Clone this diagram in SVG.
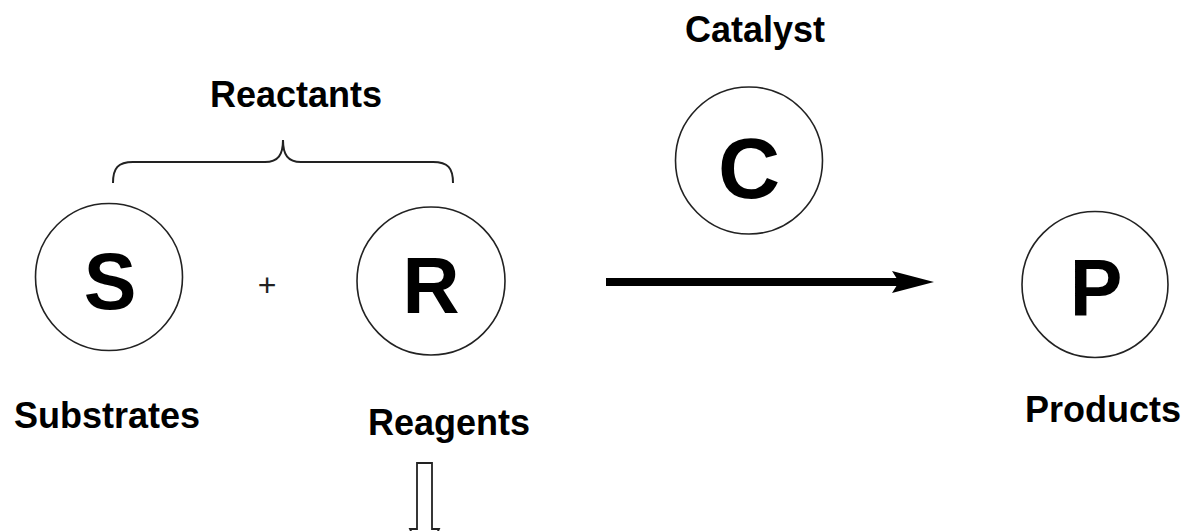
<svg xmlns="http://www.w3.org/2000/svg" width="1183" height="531" viewBox="0 0 1183 531">
<style>
.node{fill:#fff;stroke:#222;stroke-width:1.6}
.big{font-family:"Liberation Sans",Arial,sans-serif;font-weight:bold;fill:#000;text-anchor:middle}
.lbl{font-family:"Liberation Sans",Arial,sans-serif;font-weight:bold;font-size:36px;fill:#000;text-anchor:middle}
</style>
<rect width="1183" height="531" fill="#fff"/>
<g id="brace">
<path d="M113,183 C113,168 118,162 133,162 L265,162 C278,162 283,155 283,140 C283,155 288,162 301,162 L433,162 C448,162 453,168 453,183" fill="none" stroke="#222" stroke-width="2"/>
<text class="lbl" x="296" y="107">Reactants</text>
</g>
<g id="node-S">
<circle class="node" cx="109" cy="277" r="73.5"/>
<text class="big" x="110" y="309" font-size="79">S</text>
<text class="lbl" x="107" y="428">Substrates</text>
</g>
<g id="plus">
<text x="267" y="296" font-family="Liberation Sans, Arial, sans-serif" font-size="32" text-anchor="middle" fill="#222">+</text>
</g>
<g id="node-R">
<circle class="node" cx="431" cy="281" r="74"/>
<text class="big" x="431" y="313" font-size="79">R</text>
<text class="lbl" x="449" y="435">Reagents</text>
</g>
<g id="node-C">
<circle class="node" cx="749" cy="160.5" r="73.5"/>
<text class="big" x="749" y="198" font-size="86">C</text>
<text class="lbl" x="755" y="42">Catalyst</text>
</g>
<g id="node-P">
<circle class="node" cx="1095" cy="284.5" r="73"/>
<text class="big" x="1096" y="315" font-size="79">P</text>
<text class="lbl" x="1103" y="422">Products</text>
</g>
<g id="connectors">
<line x1="606" y1="282" x2="902" y2="282" stroke="#000" stroke-width="8"/>
<polygon points="934,282 892,271 899,282 892,293" fill="#000"/>
<path d="M410,529 L417,529 L417,463 L432,463 L432,529 L439,529 L424.5,560 Z" fill="#fff" stroke="#222" stroke-width="1.8" stroke-linejoin="miter"/>
</g>
</svg>
